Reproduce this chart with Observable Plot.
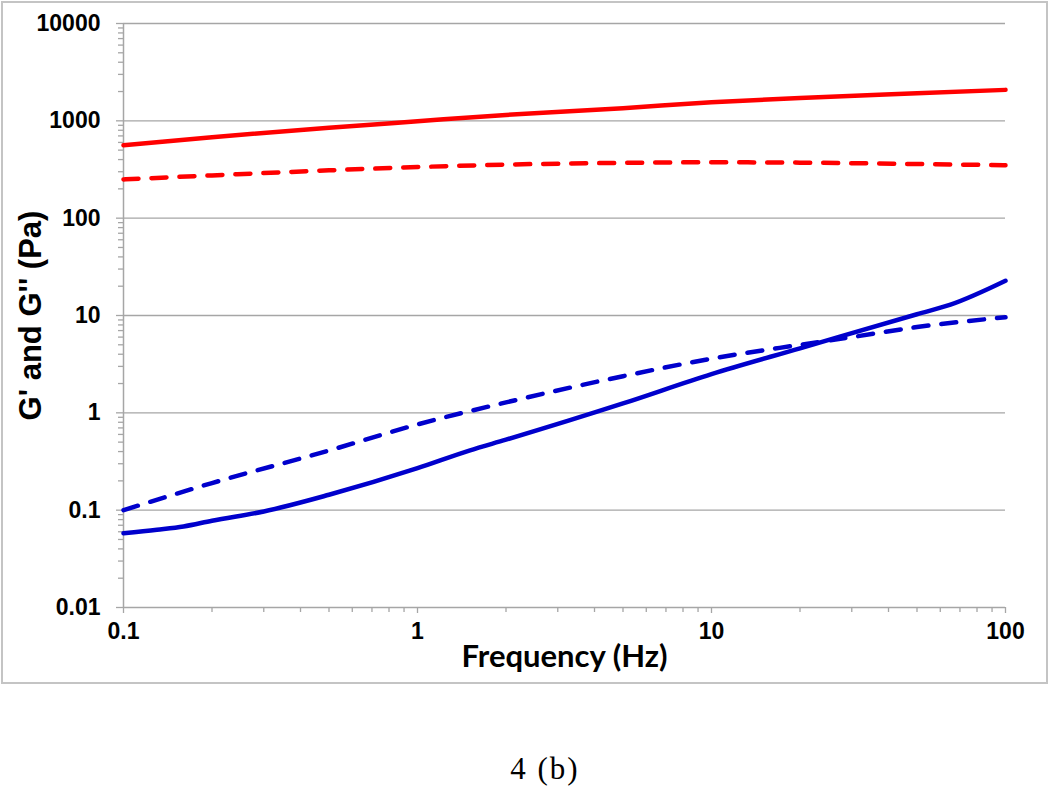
<!DOCTYPE html>
<html><head><meta charset="utf-8">
<script src="https://cdn.jsdelivr.net/npm/d3@7"></script>
<script src="https://cdn.jsdelivr.net/npm/@observablehq/plot@0.6"></script>
<style>
body{margin:0;background:#fff;}
#frame{position:absolute;left:1px;top:1px;width:1043px;height:679px;border:2px solid #c4c4c4;}
#caption{position:absolute;left:0;top:753px;width:1090px;text-align:center;font-family:"Liberation Serif";font-size:31px;line-height:32px;letter-spacing:2px;color:#000;}
</style></head><body>
<div id="frame"></div><div id="caption">4 (b)</div>
<script>
// Sample A (red)
const freqRed = [0.1, 0.2, 0.5, 1, 2, 5, 10, 20, 50, 100];
const gPrimeRed = [560, 680, 850, 990, 1150, 1350, 1550, 1720, 1920, 2080];
const gDoublePrimeRed = [250, 275, 310, 335, 355, 370, 375, 372, 360, 350];
// Sample B (blue)
const freqBlueG1 = [0.1, 0.13, 0.16, 0.2, 0.3, 0.5, 1, 1.5, 2, 5, 10, 20, 50, 65, 100];
const gPrimeBlue = [0.058, 0.063, 0.068, 0.078, 0.097, 0.144, 0.27, 0.41, 0.53, 1.25, 2.5, 4.6, 10.3, 12.9, 22.7];
const freqBlueG2 = [0.1, 0.2, 0.5, 1, 2, 5, 10, 20, 30, 50, 100];
const gDoublePrimeBlue = [0.1, 0.19, 0.41, 0.76, 1.28, 2.38, 3.6, 5.0, 6.0, 7.6, 9.6];

const yTicks = [0.01, 0.1, 1, 10, 100, 1000, 10000];
const xTicks = [0.1, 1, 10, 100];
const yTickLabels = ["0.01", "0.1", "1", "10", "100", "1000", "10000"];
const xTickLabels = ["0.1", "1", "10", "100"];
const xLabel = "Frequency (Hz)";
const yLabel = "G' and G'' (Pa)";

const minorOf = (lo, hi) => {
  const out = [];
  for (let e = lo; e < hi; e++) for (let m = 2; m <= 9; m++) out.push(m * Math.pow(10, e));
  return out;
};
const yMinor = minorOf(-2, 4);
const xMinor = minorOf(-1, 2);

const series = (f, v, name) => f.map((x, i) => ({f: x, v: v[i], s: name}));
const redSolid = series(freqRed, gPrimeRed, "G' red");
const redDash = series(freqRed, gDoublePrimeRed, "G'' red");
const blueSolid = series(freqBlueG1, gPrimeBlue, "G' blue");
const blueDash = series(freqBlueG2, gDoublePrimeBlue, "G'' blue");

const fmt = (arr, labels) => d => labels[arr.indexOf(d)];
const grey = "#a6a6a6";

const chart = Plot.plot({
  width: 1043,
  height: 679,
  marginLeft: 120,
  marginRight: 41,
  marginTop: 20,
  marginBottom: 75,
  style: {fontFamily: "Liberation Sans", fontWeight: "bold", color: "#000", background: "transparent"},
  x: {type: "log", domain: [0.1, 100]},
  y: {type: "log", domain: [0.01, 10000]},
  marks: [
    Plot.gridY(yTicks.slice(1), {stroke: grey, strokeOpacity: 1, strokeWidth: 1.3}),
    Plot.ruleX([0.1], {stroke: grey, strokeWidth: 1.5}),
    Plot.ruleY([0.01], {stroke: grey, strokeWidth: 1.5}),
    Plot.axisY(yMinor, {tickSize: 5, tickFormat: () => "", stroke: grey, strokeWidth: 1.3, label: null}),
    Plot.axisY(yTicks, {tickSize: 7, tickPadding: 16, tickFormat: fmt(yTicks, yTickLabels), stroke: grey, strokeWidth: 1.3, fontSize: 23, label: null}),
    Plot.axisX(xMinor, {tickSize: 5, tickFormat: () => "", stroke: grey, strokeWidth: 1.3, label: null}),
    Plot.axisX(xTicks, {tickSize: 6, tickPadding: 9, tickFormat: fmt(xTicks, xTickLabels), stroke: grey, strokeWidth: 1.3, fontSize: 23, label: null}),
    Plot.line(redSolid, {x: "f", y: "v", stroke: "#ff0000", strokeWidth: 4.5, curve: "monotone-x"}),
    Plot.line(redDash, {x: "f", y: "v", stroke: "#ff0000", strokeWidth: 4.5, strokeDasharray: "15,13", curve: "monotone-x"}),
    Plot.line(blueSolid, {x: "f", y: "v", stroke: "#0000cc", strokeWidth: 4.5, curve: "monotone-x"}),
    Plot.line(blueDash, {x: "f", y: "v", stroke: "#0000cc", strokeWidth: 4.5, strokeDasharray: "15,13", curve: "monotone-x"}),
    Plot.text([yLabel], {frameAnchor: "left", textAnchor: "middle", dx: -92, rotate: -90, fontSize: 31, fill: "#000"}),
    Plot.text([xLabel], {frameAnchor: "bottom", textAnchor: "middle", dy: 59, fontSize: 31, fontFamily: "Lato", fill: "#000"})
  ]
});
chart.style.position = "absolute";
chart.style.left = "3px";
chart.style.top = "3px";
document.body.appendChild(chart);
</script>
</body></html>
